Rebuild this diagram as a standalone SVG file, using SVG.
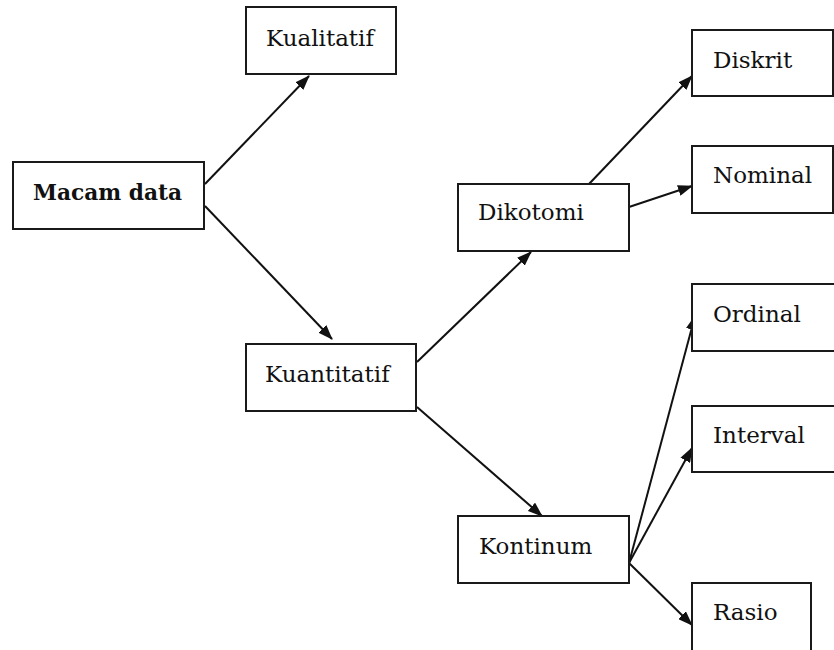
<svg xmlns="http://www.w3.org/2000/svg" width="834" height="650" viewBox="0 0 834 650">
<style>
.box{fill:#fff;stroke:#1a1a1a;stroke-width:2}
.t{font-family:"DejaVu Serif","Liberation Serif",serif;font-size:23px;fill:#111}
.b{font-weight:bold;font-size:22px}
.c{stroke:#111;stroke-width:2;fill:none;marker-end:url(#ah)}
</style>
<defs>
<marker id="ah" markerWidth="15" markerHeight="11" refX="14" refY="5.5" orient="auto" markerUnits="userSpaceOnUse">
<path d="M0,0 L15,5.5 L0,11 Z" fill="#111"/>
</marker>
</defs>
<rect width="834" height="650" fill="#fff"/>
<g id="connectors">
<line class="c" x1="205" y1="184" x2="309" y2="76"/>
<line class="c" x1="205" y1="206" x2="332" y2="339"/>
<line class="c" x1="417" y1="362" x2="531" y2="252"/>
<line class="c" x1="417" y1="407" x2="542" y2="516"/>
<line class="c" x1="589" y1="184" x2="692" y2="76"/>
<line class="c" x1="629" y1="207" x2="692" y2="186"/>
<line class="c" x1="629" y1="563" x2="695" y2="316"/>
<line class="c" x1="629" y1="563" x2="692" y2="448"/>
<line class="c" x1="629" y1="563" x2="692" y2="625"/>
</g>
<g id="macam"><rect class="box" x="13" y="162" width="191" height="67"/><text class="t b" x="33" y="200" textLength="149" lengthAdjust="spacingAndGlyphs">Macam data</text></g>
<g id="kualitatif"><rect class="box" x="246" y="7" width="150" height="67"/><text class="t" x="266" y="46">Kualitatif</text></g>
<g id="kuantitatif"><rect class="box" x="246" y="344" width="170" height="67"/><text class="t" x="265" y="382">Kuantitatif</text></g>
<g id="dikotomi"><rect class="box" x="458" y="184" width="171" height="67"/><text class="t" x="478" y="220">Dikotomi</text></g>
<g id="kontinum"><rect class="box" x="458" y="516" width="171" height="67"/><text class="t" x="479" y="554">Kontinum</text></g>
<g id="diskrit"><rect class="box" x="692" y="30" width="141" height="66"/><text class="t" x="713" y="68">Diskrit</text></g>
<g id="nominal"><rect class="box" x="692" y="146" width="141" height="67"/><text class="t" x="713" y="183">Nominal</text></g>
<g id="ordinal"><rect class="box" x="692" y="284" width="160" height="67"/><text class="t" x="713" y="322">Ordinal</text></g>
<g id="interval"><rect class="box" x="692" y="406" width="160" height="66"/><text class="t" x="713" y="443">Interval</text></g>
<g id="rasio"><rect class="box" x="692" y="583" width="119" height="90"/><text class="t" x="713" y="620">Rasio</text></g>
</svg>
